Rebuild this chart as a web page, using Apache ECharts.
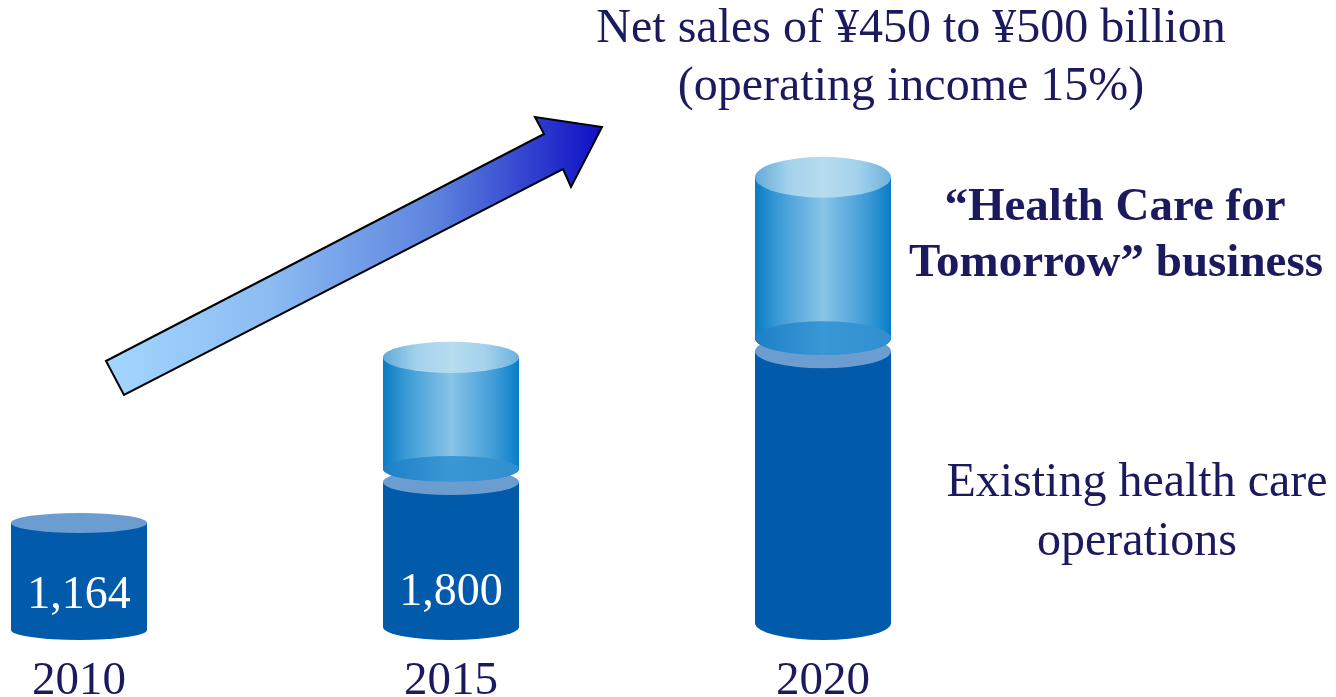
<!DOCTYPE html>
<html>
<head>
<meta charset="utf-8">
<title>Net sales outlook</title>
<script src="https://cdn.jsdelivr.net/npm/echarts@6/dist/echarts.min.js"></script>
<style>
    html, body { margin: 0; padding: 0; background: #fff; }
    #chart { width: 1336px; height: 697px; }
</style>
</head>
<body>
<div id="chart"></div>
<script>
// net sales, ¥100 million (heights)
const years = ['2010', '2015', '2020']
const existingSales = [1164, 1570, 2870]
const tomorrowSales = [0, 1240, 1730]
const existingLabels = ['1,164', '1,800', '']

const navy = '#1b1a5e'
const serif = '"Liberation Serif", "Times New Roman", serif'
const barWidth = 136
const capRy = [10, 13, 17] // ellipse half heights, fake perspective
const floatGap = 13 // light cylinder floats a little above the dark one

function ellipsePath(cx, cy, rx, ry) {
    return `M${cx - rx} ${cy} A${rx} ${ry} 0 0 0 ${cx + rx} ${cy} A${rx} ${ry} 0 0 0 ${cx - rx} ${cy} Z`
}
function bodyPath(cx, yTop, yBottom, rx, ry) {
    return `M${cx - rx} ${yTop} L${cx - rx} ${yBottom} A${rx} ${ry} 0 0 0 ${cx + rx} ${yBottom} L${cx + rx} ${yTop} Z`
}
function hGrad(stops) {
    return new echarts.graphic.LinearGradient(0, 0, 1, 0, stops.map((c, k) => ({ offset: k / (stops.length - 1), color: c })))
}

function renderExisting(params, api) {
    const i = api.value(0)
    const top = api.coord([i, api.value(1)])
    const floor = api.coord([i, 0])[1]
    const ry = capRy[i]
    const rx = barWidth / 2
    const cx = top[0]
    const yBase = floor - ry
    const yTop = top[1]
    return {
        type: 'group',
        children: [
            { type: 'path', shape: { pathData: bodyPath(cx, yTop, yBase, rx, ry) }, style: { fill: '#015aaa' } },
            { type: 'path', shape: { pathData: ellipsePath(cx, yTop, rx, ry) }, style: { fill: '#6b9dd1' } },
            {
                type: 'text',
                x: cx,
                y: yBase - 34,
                style: { text: existingLabels[i], fill: '#fff', font: `46px ${serif}`, align: 'center', verticalAlign: 'middle' }
            }
        ]
    }
}

function renderTomorrow(params, api) {
    const i = api.value(0)
    const extra = api.value(2)
    if (!extra) return { type: 'group', children: [] }
    const bottom = api.coord([i, api.value(1)])
    const top = api.coord([i, api.value(1) + extra])
    const ry = capRy[i]
    const rx = barWidth / 2
    const cx = top[0]
    const yBottom = bottom[1] - floatGap
    const yTop = top[1]
    return {
        type: 'group',
        children: [
            {
                type: 'path',
                shape: { pathData: bodyPath(cx, yTop, yBottom, rx, ry) },
                style: { fill: hGrad(['#087bc4', '#3b9ad6', '#62afdf', '#88c4e7', '#62afdf', '#3b9ad6', '#087dc6']) }
            },
            {
                type: 'path',
                shape: { pathData: ellipsePath(cx, yBottom, rx, ry) },
                style: { fill: hGrad(['#1c80c7', '#3b97d5', '#2f8fd0']) }
            },
            {
                type: 'path',
                shape: { pathData: ellipsePath(cx, yTop, rx, ry * 1.2) },
                style: { fill: hGrad(['#62aad9', '#a4d2ec', '#b6dcef', '#a4d2ec', '#6db2dc']) }
            }
        ]
    }
}

const chart = echarts.init(document.getElementById('chart'))

const option = {
    backgroundColor: '#fff',
    animation: false,
    grid: { left: 79, right: 513, top: 137, bottom: 57, outerBoundsMode: 'none', containLabel: false },
    xAxis: {
        type: 'category',
        data: years,
        boundaryGap: false,
        axisLine: { show: false },
        axisTick: { show: false },
        axisLabel: { interval: 0, margin: 18, fontSize: 47, fontFamily: serif, color: navy }
    },
    yAxis: { type: 'value', min: 0, max: 5000, show: false },
    series: [
        {
            name: 'Existing health care operations',
            type: 'custom',
            clip: false,
            z: 2,
            renderItem: renderExisting,
            encode: { x: 0, y: 1 },
            data: years.map((y, i) => [i, existingSales[i]])
        },
        {
            name: 'Health Care for Tomorrow business',
            type: 'custom',
            clip: false,
            z: 3,
            renderItem: renderTomorrow,
            encode: { x: 0, y: 1 },
            data: years.map((y, i) => [i, existingSales[i], tomorrowSales[i]])
        }
    ],
    graphic: [
        {
            type: 'polygon',
            z: 10,
            shape: { points: [[106, 361], [544, 134], [535, 117], [602, 127], [571, 187], [563, 169], [124, 395]] },
            style: {
                fill: hGrad(['#a3d6ff', '#8bbcf2', '#5d82de', '#0e0ec4']),
                stroke: '#000',
                lineWidth: 2
            }
        },
        { type: 'text', x: 911, y: 29, style: { text: 'Net sales of ¥450 to ¥500 billion', font: `48px ${serif}`, fill: navy, align: 'center', verticalAlign: 'middle' } },
        { type: 'text', x: 911, y: 87, style: { text: '(operating income 15%)', font: `48px ${serif}`, fill: navy, align: 'center', verticalAlign: 'middle' } },
        { type: 'text', x: 1115, y: 208, style: { text: '“Health Care for', font: `bold 47px ${serif}`, fill: navy, align: 'center', verticalAlign: 'middle' } },
        { type: 'text', x: 1116, y: 264, style: { text: 'Tomorrow” business', font: `bold 47px ${serif}`, fill: navy, align: 'center', verticalAlign: 'middle' } },
        { type: 'text', x: 1137, y: 483, style: { text: 'Existing health care', font: `48px ${serif}`, fill: navy, align: 'center', verticalAlign: 'middle' } },
        { type: 'text', x: 1137, y: 542, style: { text: 'operations', font: `48px ${serif}`, fill: navy, align: 'center', verticalAlign: 'middle' } }
    ]
}

chart.setOption(option)
</script>
</body>
</html>
